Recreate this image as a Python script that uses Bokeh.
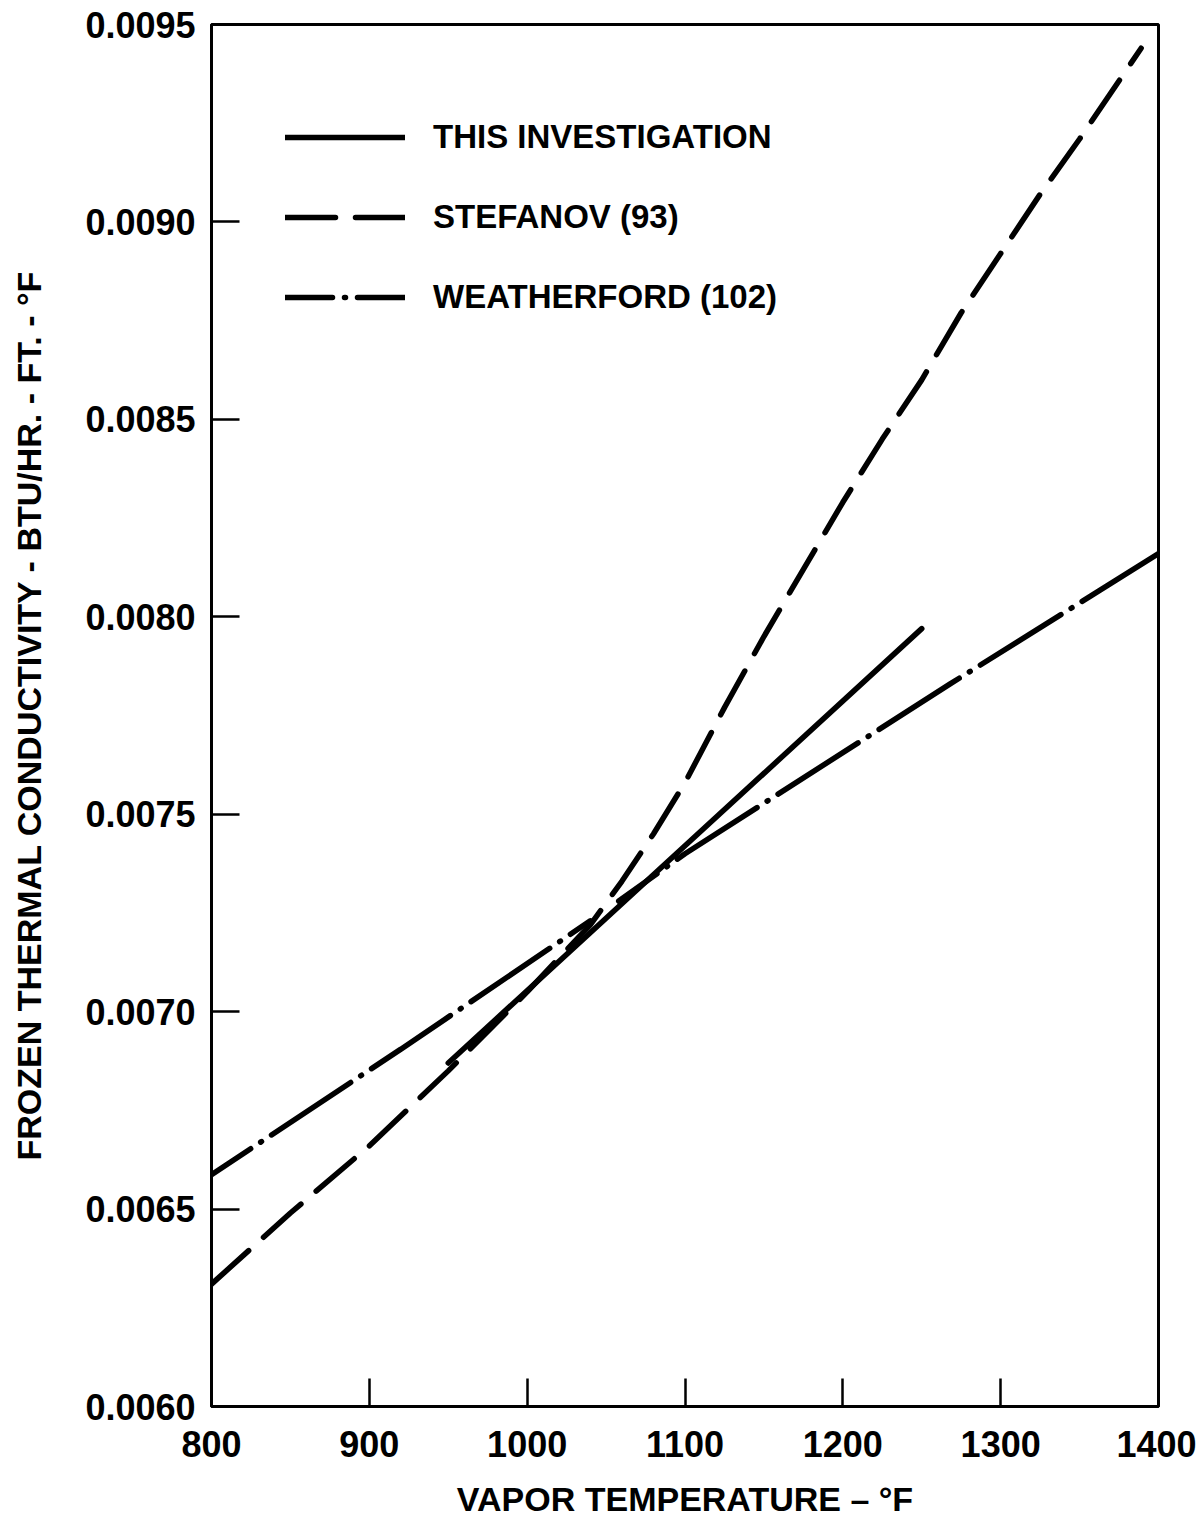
import math
from bokeh.plotting import figure
from bokeh.models import FixedTicker, PrintfTickFormatter, Legend, LegendItem
from bokeh.embed import file_html
from bokeh.resources import INLINE

# ---- data ----
x_ticks = [800, 900, 1000, 1100, 1200, 1300, 1400]
y_ticks = [0.0060, 0.0065, 0.0070, 0.0075, 0.0080, 0.0085, 0.0090, 0.0095]

inv_temp = [950, 1100, 1250]
inv_k = [0.00687, 0.00742, 0.00797]

stef_temp = [800, 850, 900, 950, 1000, 1040, 1060, 1080, 1100, 1125, 1150,
             1175, 1200, 1225, 1250, 1275, 1300, 1325, 1350, 1389]
stef_k = [0.00631, 0.00649, 0.00666, 0.00685, 0.00705, 0.00722, 0.00733,
          0.00745, 0.00758, 0.00777, 0.00795, 0.00812, 0.00829, 0.00845,
          0.00860, 0.00877, 0.00892, 0.00907, 0.00921, 0.00944]

weath_temp = [800, 920, 1040, math.nan, 1058, 1100, 1268, 1400]
weath_k = [0.006587, 0.006905, 0.00723, math.nan, 0.00728, 0.00740, 0.00783, 0.00816]

labels = ["THIS INVESTIGATION", "STEFANOV (93)", "WEATHERFORD (102)"]

FONT = "Liberation Sans"

p = figure(frame_width=947, frame_height=1382,
           min_border_left=211, min_border_right=38,
           min_border_top=24, min_border_bottom=107,
           x_range=(800, 1400), y_range=(0.0060, 0.0095),
           output_backend="svg", toolbar_location=None,
           background_fill_color="white", border_fill_color="white")

p.xgrid.visible = False
p.ygrid.visible = False
p.outline_line_color = "black"
p.outline_line_width = 3
p.outline_line_alpha = 1

p.xaxis.ticker = FixedTicker(ticks=x_ticks)
p.yaxis.ticker = FixedTicker(ticks=y_ticks)
p.yaxis.formatter = PrintfTickFormatter(format="%.4f")

for ax in (p.xaxis, p.yaxis):
    ax.axis_line_width = 3
    ax.axis_line_color = "black"
    ax.major_tick_in = 28
    ax.major_tick_out = 0
    ax.major_tick_line_width = 2.5
    ax.major_tick_line_color = "black"
    ax.minor_tick_line_color = None
    ax.major_label_text_font = FONT
    ax.major_label_text_font_size = "36px"
    ax.major_label_text_font_style = "bold"
    ax.major_label_text_color = "black"
    ax.axis_label_text_font = FONT
    ax.axis_label_text_font_size = "34px"
    ax.axis_label_text_font_style = "bold"
    ax.axis_label_text_color = "black"

p.xaxis.axis_label = "VAPOR TEMPERATURE \u2013 \u00b0F"
p.yaxis.axis_label = "FROZEN THERMAL CONDUCTIVITY - BTU/HR. - FT. - \u00b0F"
p.xaxis.major_label_standoff = 24
p.xaxis.axis_label_standoff = 20
p.yaxis.major_label_standoff = 16
p.yaxis.axis_label_standoff = 34

LW = 5.5
r_inv = p.line(inv_temp, inv_k, line_color="black", line_width=LW, line_cap="round")
r_stef = p.line(stef_temp, stef_k, line_color="black", line_width=LW,
                line_cap="round", line_dash="50 20")
r_weath = p.line(weath_temp, weath_k, line_color="black", line_width=LW,
                 line_cap="round", line_dash="95 12 1 12", line_dash_offset=48)

legend = Legend(items=[LegendItem(label=labels[0], renderers=[r_inv]),
                       LegendItem(label=labels[1], renderers=[r_stef]),
                       LegendItem(label=labels[2], renderers=[r_weath])],
                location=(74, 1089),
                glyph_width=120, glyph_height=40, label_height=40,
                spacing=40, padding=0, margin=0, label_standoff=28,
                label_text_font=FONT, label_text_font_size="33px",
                label_text_font_style="bold",
                label_text_color="black",
                border_line_color=None, background_fill_alpha=0)
p.add_layout(legend)

open("out.html", "w").write(file_html(p, INLINE))
